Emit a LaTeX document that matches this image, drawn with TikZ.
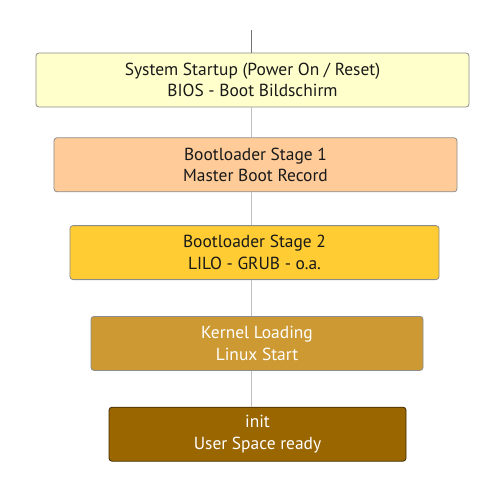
\documentclass[tikz,border=0pt]{standalone}
\usepackage{fontspec}
\setmainfont{PT Sans}
\usetikzlibrary{positioning}

\definecolor{bioscol}{HTML}{FFFFCC}
\definecolor{mbrcol}{HTML}{FFCC99}
\definecolor{grubcol}{HTML}{FFCC33}
\definecolor{kerncol}{HTML}{CC9933}
\definecolor{initcol}{HTML}{996600}

\begin{document}
\begin{tikzpicture}[x=1bp, y=1bp,
	stage/.style={draw=black!45, line width=0.8bp, rounded corners=3bp, minimum height=54bp,
		align=center, inner sep=0pt, font=\fontsize{17.5}{21.5}\selectfont, text=black!90},
	link/.style={draw=black!25, line width=1.2bp}]
	\useasboundingbox (0,0) rectangle (500,-500);
	\coordinate (top) at (251.3,-30);
	\node[stage, fill=bioscol, minimum width=433bp] (Bios) at (252.5,-80) {System Startup (Power On / Reset)\\BIOS - Boot Bildschirm};
	\node[stage, fill=mbrcol, minimum width=403bp, below = 30bp of Bios, xshift=3bp] (Mbr) {Bootloader Stage 1\\Master Boot Record};
	\node[stage, fill=grubcol, minimum width=369bp, below = 33bp of Mbr, xshift=-1bp] (Grub) {Bootloader Stage 2\\LILO - GRUB - o.a.};
	\node[stage, fill=kerncol, text=white, minimum width=332bp, below = 36bp of Grub, xshift=2.5bp] (Kern) {Kernel Loading\\Linux Start};
	\node[stage, fill=initcol, draw=black!60!initcol, text=white, minimum width=297bp, below = 36bp of Kern, xshift=0.5bp] (Init) {init\\User Space ready};
	% the spine runs behind the boxes at x = 251.3
	\draw[draw=black!55, line width=0.8bp] (top) -- (top |- Bios.north);
	\draw[link] (top |- Bios.south) -- (top |- Mbr.north);
	\draw[link] (top |- Mbr.south) -- (top |- Grub.north);
	\draw[link] (top |- Grub.south) -- (top |- Kern.north);
	\draw[link] (top |- Kern.south) -- (top |- Init.north);
\end{tikzpicture}
\end{document}
